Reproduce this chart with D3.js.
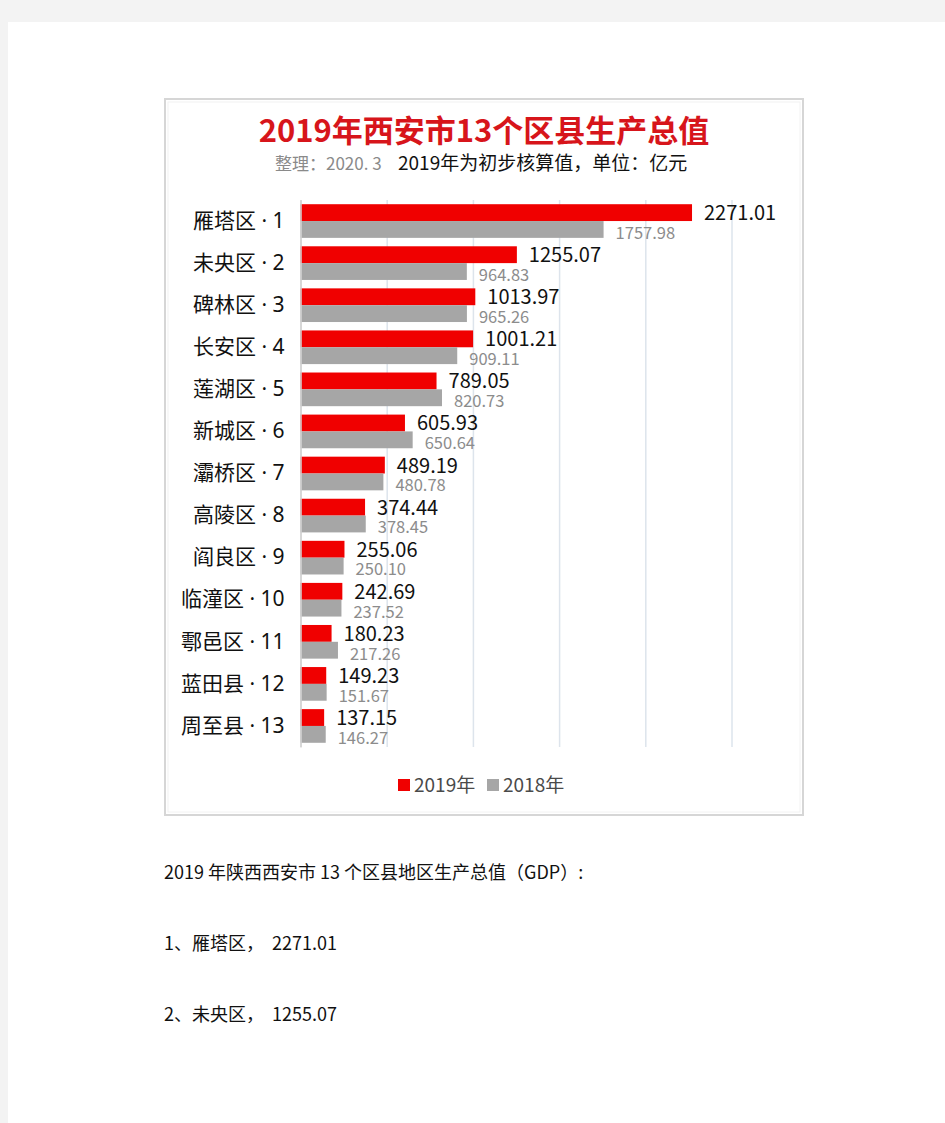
<!DOCTYPE html>
<html>
<head>
<meta charset="utf-8">
<script src="https://cdn.jsdelivr.net/npm/d3@7"></script>
<style>
  body { margin: 0; background: #f3f3f3; }
  svg { display: block; }
  text { font-family: "Noto Sans CJK SC", "Noto Sans", sans-serif; }
</style>
</head>
<body>
<svg id="page" width="945" height="1123"></svg>
<script>
var districts = ['雁塔区', '未央区', '碑林区', '长安区', '莲湖区', '新城区', '灞桥区',
  '高陵区', '阎良区', '临潼区', '鄠邑区', '蓝田县', '周至县'];
var gdp2019 = [2271.01, 1255.07, 1013.97, 1001.21, 789.05, 605.93, 489.19,
  374.44, 255.06, 242.69, 180.23, 149.23, 137.15];
var gdp2018 = [1757.98, 964.83, 965.26, 909.11, 820.73, 650.64, 480.78,
  378.45, 250.10, 237.52, 217.26, 151.67, 146.27];
var seriesNames = ['2019年', '2018年'];
var gridTicks = [0, 500, 1000, 1500, 2000, 2500];
var titleText = '2019年西安市13个区县生产总值';
var noteText = '整理：2020. 3';
var subText = '2019年为初步核算值，单位：亿元';
var bodyLines = ['2019 年陕西西安市 13 个区县地区生产总值（GDP）:',
  '1、雁塔区，  2271.01',
  '2、未央区，  1255.07'];

var page = d3.select('#page');

(function() {
  var colors = { '2019年': '#f00000', '2018年': '#a6a6a6' };

  // white document sheet
  page.append('rect')
    .attr('x', 8).attr('y', 22)
    .attr('width', 945 - 8).attr('height', 1123 - 22)
    .attr('fill', '#fff');

  // chart frame
  var box = { x: 164, y: 98, w: 640, h: 718 };
  page.append('rect')
    .attr('x', box.x + 1).attr('y', box.y + 1)
    .attr('width', box.w - 2).attr('height', box.h - 2)
    .attr('fill', '#fff')
    .attr('stroke', '#d6d6d6')
    .attr('stroke-width', 2);
  page.append('rect')
    .attr('x', box.x + 4).attr('y', box.y + 4)
    .attr('width', box.w - 8).attr('height', box.h - 8)
    .attr('fill', 'none')
    .attr('stroke', '#f2f2f2')
    .attr('stroke-width', 1);

  var cx = box.x + box.w / 2;

  page.append('text')
    .attr('x', cx).attr('y', 142)
    .attr('text-anchor', 'middle')
    .attr('font-size', 31)
    .attr('font-weight', 700)
    .attr('fill', '#d7151b')
    .text(titleText);

  var sub = page.append('text')
    .attr('x', 275).attr('y', 170);
  sub.append('tspan').attr('font-size', 17).attr('fill', '#8a8a8a').text(noteText);
  sub.append('tspan').attr('x', 398).attr('font-size', 19).attr('fill', '#111').text(subText);

  var m = { left: 300.5, right: 731.5, top: 200, bottom: 747 };

  var x = d3.scaleLinear()
    .domain([0, 2500])
    .range([m.left, m.right]);

  var y = d3.scaleBand()
    .domain(districts)
    .range([m.top, m.bottom])
    .paddingInner(0.2)
    .paddingOuter(0.1);

  var ySub = d3.scaleBand()
    .domain(seriesNames)
    .range([0, y.bandwidth()]);

  // gridlines
  var grid = page.append('g')
    .attr('transform', 'translate(0,' + m.bottom + ')')
    .call(d3.axisBottom(x).tickValues(gridTicks).tickSize(-(m.bottom - m.top)).tickFormat(''));
  grid.select('.domain').remove();
  grid.selectAll('line')
    .attr('stroke', function(d) { return d === 0 ? '#d4d4d4' : '#dde4ec'; })
    .attr('stroke-width', 1.5);

  var rows = districts.map(function(d, i) {
    return { name: d, rank: i + 1, values: [gdp2019[i], gdp2018[i]] };
  });

  var fmt = d3.format('.2f');

  var row = page.append('g').selectAll('g')
    .data(rows).enter()
    .append('g')
    .attr('transform', function(d) { return 'translate(0,' + y(d.name) + ')'; });

  row.selectAll('rect')
    .data(function(d) {
      return seriesNames.map(function(s, k) { return { s: s, v: d.values[k] }; });
    }).enter()
    .append('rect')
    .attr('x', x(0))
    .attr('y', function(d) { return ySub(d.s); })
    .attr('width', function(d) { return x(d.v) - x(0); })
    .attr('height', ySub.bandwidth())
    .attr('fill', function(d) { return colors[d.s]; });

  row.selectAll('text.val')
    .data(function(d) {
      return seriesNames.map(function(s, k) { return { s: s, v: d.values[k] }; });
    }).enter()
    .append('text')
    .attr('class', 'val')
    .attr('x', function(d) { return x(d.v) + 12; })
    .attr('y', function(d, k) { return ySub(d.s) + ySub.bandwidth() + (k === 0 ? -1 : 1); })
    .attr('font-size', function(d, k) { return k === 0 ? 20 : 16.5; })
    .attr('fill', function(d, k) { return k === 0 ? '#111' : '#8c8c8c'; })
    .text(function(d) { return fmt(d.v); });

  // category axis
  var yAxis = page.append('g')
    .attr('transform', 'translate(' + x(0) + ',0)')
    .call(d3.axisLeft(y).tickSize(0).tickPadding(16)
      .tickFormat(function(d, i) { return d + ' · ' + (i + 1); }));
  yAxis.select('.domain')
    .attr('stroke', '#d4d4d4')
    .attr('stroke-width', 1.5);
  yAxis.selectAll('text')
    .attr('font-size', 21)
    .style('font-family', '"Noto Sans", "Noto Sans CJK SC", sans-serif')
    .attr('fill', '#111');

  // legend
  var legend = page.append('g').selectAll('g')
    .data(seriesNames).enter()
    .append('g')
    .attr('transform', function(d, i) { return 'translate(' + (398 + i * 89) + ',779)'; });
  legend.append('rect')
    .attr('width', 12).attr('height', 12)
    .attr('fill', function(d) { return colors[d]; });
  legend.append('text')
    .attr('x', 16).attr('y', 13)
    .attr('font-size', 19)
    .attr('fill', '#4a4a4a')
    .text(function(d) { return d; });

  // document text under the chart
  page.append('g').selectAll('text')
    .data(bodyLines).enter()
    .append('text')
    .attr('x', 164)
    .attr('y', function(d, i) { return 879 + i * 71; })
    .attr('font-size', 18)
    .attr('fill', '#111')
    .style('white-space', 'pre')
    .text(function(d) { return d; });
})();
</script>
</body>
</html>
